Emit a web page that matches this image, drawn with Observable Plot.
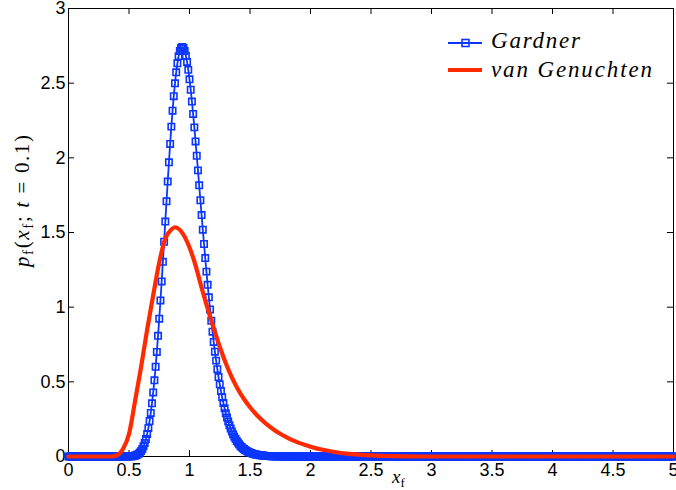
<!DOCTYPE html>
<html><head><meta charset="utf-8">
<script src="https://cdn.jsdelivr.net/npm/d3@7"></script>
<script src="https://cdn.jsdelivr.net/npm/@observablehq/plot@0.6"></script>
<style>body{margin:0;background:#fff} #chart{width:676px;height:490px}</style>
</head><body><div id="chart"></div>
<script>
const xTicks = [0, 0.5, 1, 1.5, 2, 2.5, 3, 3.5, 4, 4.5, 5];
const xTickLabels = ["0", "0.5", "1", "1.5", "2", "2.5", "3", "3.5", "4", "4.5", "5"];
const yTicks = [0, 0.5, 1, 1.5, 2, 2.5, 3];
const yTickLabels = ["0", "0.5", "1", "1.5", "2", "2.5", "3"];
const seriesNames = ["Gardner", "van Genuchten"];

// Gardner: sampled every 0.01 from 0 to 5
const gardnerStep = 0.01;
const gardnerY = [
0,0,0,0,0,0,0,0,0,0, 0,0,0,0,0,0,0,0,0,0,
0,0,0,0,0,0,0,0,0,0, 0,0,0,0,0,0,0,0,0,0,
0,0,0,0,0,0,0,0,0,0,
0.001,0.001,0.002,0.002,0.004,0.006,0.009,0.013,0.019,0.027,
0.037,0.051,0.068,0.090,0.117,0.150,0.190,0.237,0.292,0.356,
0.429,0.510,0.601,0.700,0.808,0.923,1.045,1.172,1.304,1.438,
1.573,1.709,1.841,1.970,2.093,2.209,2.316,2.413,2.499,2.573,
2.633,2.681,2.715,2.735,2.742,2.735,2.716,2.684,2.642,2.589,
2.526,2.456,2.377,2.294,2.204,2.110,2.014,1.916,1.816,1.716,
1.617,1.519,1.423,1.329,1.238,1.150,1.066,0.985,0.909,0.836,
0.767,0.702,0.642,0.585,0.532,0.483,0.438,0.396,0.358,0.323,
0.290,0.261,0.234,0.209,0.187,0.167,0.149,0.132,0.118,0.104,
0.093,0.082,0.072,0.064,0.056,0.050,0.044,0.038,0.034,0.030,
0.026,0.023,0.020,0.017,0.015,0.013,0.011,0.010,0.009,0.008,
0.007,0.006,0.005,0.004,0.004,0.003,0.003,0.002,0.002,0.002,
0.002,0.001,0.001,0.001,0.001,0.001,0,0,0,0,
0,0,0,0,0,0,0,0,0,0, 0,0,0,0,0,0,0,0,0,0,
0,0,0,0,0,0,0,0,0,0, 0,0,0,0,0,0,0,0,0,0,
0,0,0,0,0,0,0,0,0,0, 0,0,0,0,0,0,0,0,0,0,
0,0,0,0,0,0,0,0,0,0, 0,0,0,0,0,0,0,0,0,0,
0,0,0,0,0,0,0,0,0,0, 0,0,0,0,0,0,0,0,0,0,
0,0,0,0,0,0,0,0,0,0, 0,0,0,0,0,0,0,0,0,0,
0,0,0,0,0,0,0,0,0,0, 0,0,0,0,0,0,0,0,0,0,
0,0,0,0,0,0,0,0,0,0, 0,0,0,0,0,0,0,0,0,0,
0,0,0,0,0,0,0,0,0,0, 0,0,0,0,0,0,0,0,0,0,
0,0,0,0,0,0,0,0,0,0, 0,0,0,0,0,0,0,0,0,0,
0,0,0,0,0,0,0,0,0,0, 0,0,0,0,0,0,0,0,0,0,
0,0,0,0,0,0,0,0,0,0, 0,0,0,0,0,0,0,0,0,0,
0,0,0,0,0,0,0,0,0,0, 0,0,0,0,0,0,0,0,0,0,
0,0,0,0,0,0,0,0,0,0, 0,0,0,0,0,0,0,0,0,0,
0,0,0,0,0,0,0,0,0,0, 0,0,0,0,0,0,0,0,0,0,
0,0,0,0,0,0,0,0,0,0, 0,0,0,0,0,0,0,0,0,0,
0
];

// van Genuchten
const vgX = [0,0.30,0.35,0.40,0.45,0.50,0.55,0.60,0.65,0.70,0.75,0.80,0.85,0.88,0.90,0.95,
  1.00,1.05,1.10,1.15,1.20,1.25,1.30,1.35,1.40,1.45,1.50,1.55,1.60,1.65,1.70,1.75,1.80,1.85,1.90,1.95,
  2.00,2.10,2.20,2.30,2.40,2.50,2.60,2.80,3.00,5.00];
const vgY = [0,0,0,0.008,0.05,0.15,0.37,0.60,0.85,1.08,1.30,1.46,1.52,1.535,1.53,1.485,
  1.40,1.28,1.13,0.99,0.86,0.735,0.625,0.53,0.45,0.385,0.33,0.283,0.243,0.208,0.178,0.152,0.13,0.11,0.093,0.079,
  0.066,0.045,0.030,0.019,0.012,0.007,0.004,0.001,0,0];

const blue = "#0b36ff", red = "#ff2a00";
const gardner = gardnerY.map((y, i) => ({x: +(i * gardnerStep).toFixed(2), y}));
const vg = vgX.map((x, i) => ({x, y: vgY[i]}));
const fmtX = d => xTickLabels[xTicks.indexOf(d)];
const fmtY = d => yTickLabels[yTicks.indexOf(d)];
const tx = 0.05, ty = 0.04;

const plot = Plot.plot({
  width: 676, height: 490,
  marginLeft: 68, marginRight: 3, marginTop: 8, marginBottom: 34,
  x: {domain: [0, 5]}, y: {domain: [0, 3]},
  style: {fontFamily: "'Liberation Sans', Arial, sans-serif", fontSize: "18px", color: "#000", background: "#fff", overflow: "visible"},
  marks: [
    Plot.frame({stroke: "#000", strokeWidth: 1}),
    Plot.ruleX(xTicks, {x: d => d, y1: 0, y2: ty, stroke: "#000"}),
    Plot.ruleX(xTicks, {x: d => d, y1: 3, y2: 3 - ty, stroke: "#000"}),
    Plot.ruleY(yTicks, {y: d => d, x1: 0, x2: tx, stroke: "#000"}),
    Plot.ruleY(yTicks, {y: d => d, x1: 5, x2: 5 - tx, stroke: "#000"}),
    Plot.axisX({ticks: xTicks, tickSize: 0, tickPadding: 7, tickFormat: fmtX, label: null}),
    Plot.axisY({ticks: yTicks, tickSize: 0, tickPadding: 3, tickFormat: fmtY, label: null}),
    Plot.line(gardner, {x: "x", y: "y", stroke: blue, strokeWidth: 1.8}),
    Plot.dot(gardner, {x: "x", y: "y", symbol: "square", r: 3.6, stroke: blue, strokeWidth: 1.6, fill: "none"}),
    Plot.line(vg, {x: "x", y: "y", stroke: red, strokeWidth: 4.2, curve: "monotone-x"})
  ]
});
document.getElementById("chart").appendChild(plot);

const svg = d3.select(plot);
const serif = "'Liberation Serif', 'Times New Roman', serif";

// y-axis label
const yl = svg.append("text")
  .attr("transform", "translate(29,201) rotate(-90)")
  .attr("text-anchor", "middle")
  .attr("font-family", serif).attr("font-size", 21).attr("fill", "#000")
  .attr("textLength", 132).attr("lengthAdjust", "spacing");
yl.append("tspan").attr("font-style", "italic").text("p");
yl.append("tspan").attr("font-size", 15).attr("dy", 4).text("f");
yl.append("tspan").attr("dy", -4).text("(");
yl.append("tspan").attr("font-style", "italic").text("x");
yl.append("tspan").attr("font-size", 15).attr("dy", 4).text("f");
yl.append("tspan").attr("dy", -4).text("; ");
yl.append("tspan").attr("font-style", "italic").text("t");
yl.append("tspan").text(" = 0.1)");

// x-axis label
const xl = svg.append("text")
  .attr("x", 392).attr("y", 483).attr("text-anchor", "start")
  .attr("font-family", serif).attr("font-size", 19).attr("fill", "#000");
xl.append("tspan").attr("font-style", "italic").text("x");
xl.append("tspan").attr("font-size", 13).attr("dy", 4).text("f");

// legend
const lg = svg.append("g").attr("text-anchor", "start");
lg.append("line").attr("x1", 448).attr("x2", 482).attr("y1", 43).attr("y2", 43)
  .attr("stroke", blue).attr("stroke-width", 1.8);
lg.append("rect").attr("x", 462).attr("y", 39.5).attr("width", 7).attr("height", 7)
  .attr("fill", "none").attr("stroke", blue).attr("stroke-width", 1.6);
lg.append("text").attr("x", 491).attr("y", 48).attr("text-anchor", "start")
  .attr("font-family", serif).attr("font-style", "italic").attr("font-size", 23)
  .attr("textLength", 89).attr("lengthAdjust", "spacing").text(seriesNames[0]);
lg.append("line").attr("x1", 448).attr("x2", 482).attr("y1", 70).attr("y2", 70)
  .attr("stroke", red).attr("stroke-width", 4.2);
lg.append("text").attr("x", 491).attr("y", 77).attr("text-anchor", "start")
  .attr("font-family", serif).attr("font-style", "italic").attr("font-size", 23)
  .attr("textLength", 161).attr("lengthAdjust", "spacing").text(seriesNames[1]);
</script>
</body></html>
